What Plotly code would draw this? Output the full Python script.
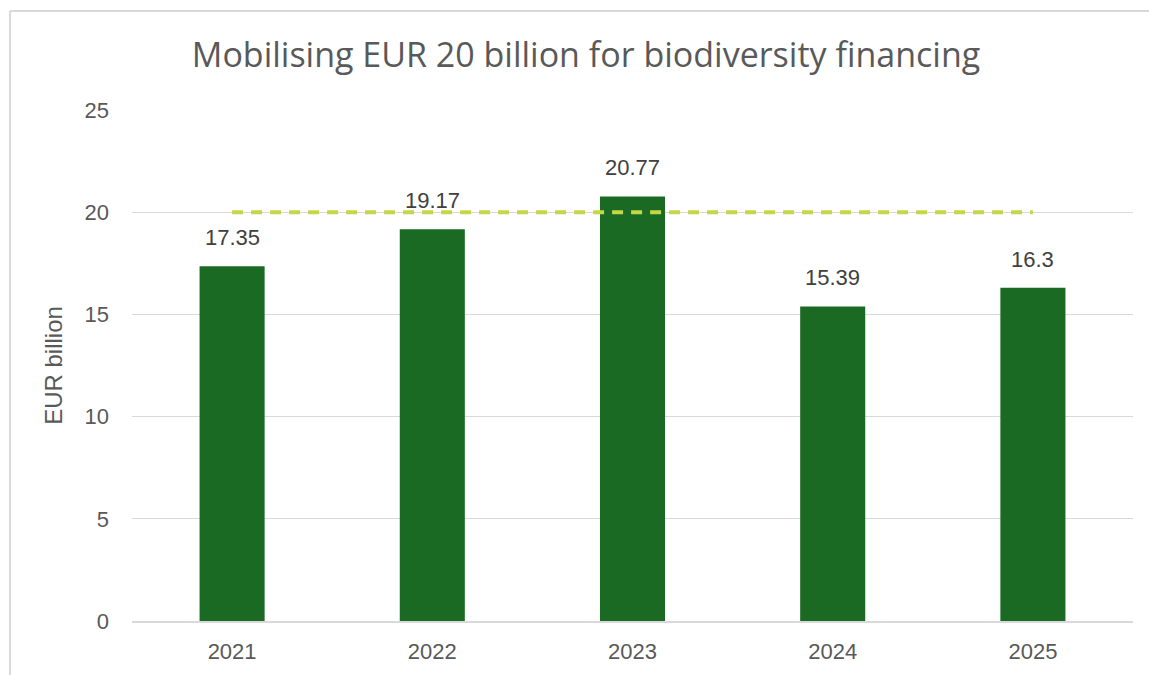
import plotly.graph_objects as go

years = ["2021", "2022", "2023", "2024", "2025"]
financing = [17.35, 19.17, 20.77, 15.39, 16.3]
target = [20, 20, 20, 20, 20]
value_labels = ["17.35", "19.17", "20.77", "15.39", "16.3"]

FONT = "Liberation Sans"
fig = go.Figure()
fig.add_trace(go.Bar(x=years, y=financing, marker=dict(color="#1b6a24", line=dict(width=0)),
                     width=0.325, name="Financing", hoverinfo="x+y"))
fig.add_trace(go.Scatter(x=years, y=target, mode="lines", name="Target",
                         line=dict(color="#c3d748", width=4, dash="11px,8px")))

for i, (y, t) in enumerate(zip(financing, value_labels)):
    fig.add_annotation(x=i, y=y, text=t, showarrow=False, yanchor="bottom", yshift=14,
                       font=dict(family=FONT, size=22, color="#404040"))

L, R, T, B = 132, 16, 110, 54
W, H = 1149, 675
pw, ph = W - L - R, H - T - B
fig.add_shape(type="line", xref="paper", yref="paper",
              x0=(10 - L) / pw, x1=(10 - L) / pw, y0=-0.2, y1=1 + (T - 11) / ph,
              line=dict(color="#d9d9d9", width=2))
fig.add_shape(type="line", xref="paper", yref="paper",
              x0=(10 - L) / pw, x1=1.1, y0=1 + (T - 11) / ph, y1=1 + (T - 11) / ph,
              line=dict(color="#d9d9d9", width=2))

fig.update_layout(
    width=W, height=H,
    margin=dict(l=L, r=R, t=T, b=B),
    paper_bgcolor="white", plot_bgcolor="white",
    showlegend=False,
    title=dict(text="Mobilising EUR 20 billion for biodiversity financing",
               x=586 / W, xanchor="center", xref="container",
               y=1 - 55 / H, yanchor="middle", yref="container",
               font=dict(family="Open Sans", size=34, color="#595959")),
    font=dict(family=FONT, color="#595959"),
    bargap=0.675,
)
fig.update_yaxes(range=[0, 25], dtick=5, showgrid=True, gridcolor="#d9d9d9", gridwidth=1,
                 zeroline=False, showline=False, ticks="",
                 tickfont=dict(family=FONT, size=22, color="#595959"),
                 ticklabelstandoff=22,
                 title=dict(text="EUR billion", font=dict(family=FONT, size=24, color="#595959"),
                            standoff=15))
fig.update_xaxes(type="category", range=[-0.5, len(years) - 0.5],
                 showgrid=False, showline=True, linecolor="#d9d9d9", linewidth=2,
                 ticks="", tickfont=dict(family=FONT, size=22, color="#595959"),
                 ticklabelstandoff=10)

fig.write_html("out.html", config={"displayModeBar": False},
               post_script="document.body.style.margin='0';document.body.style.overflow='hidden';")
